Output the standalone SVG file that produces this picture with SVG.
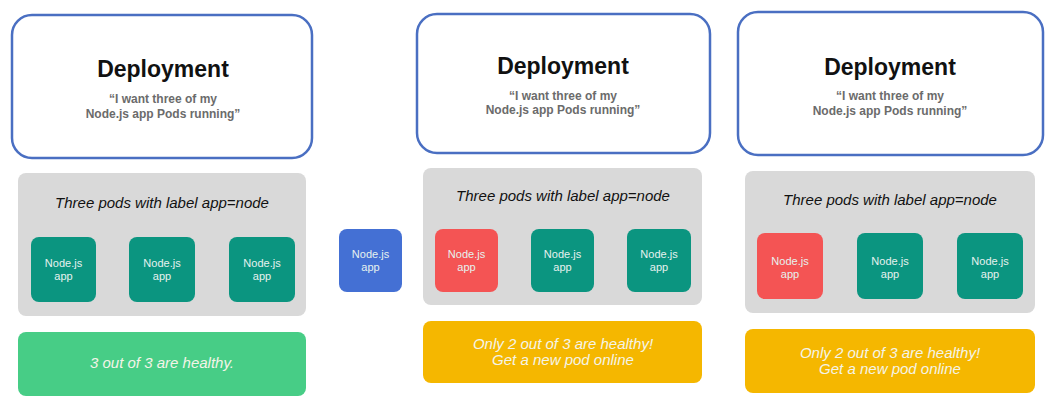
<svg xmlns="http://www.w3.org/2000/svg" width="1054" height="410" viewBox="0 0 1054 410">
<style>
.dep{fill:#ffffff;stroke:#4a6fc2;stroke-width:2.5}
.grp{fill:#d9d9d9}
.teal{fill:#0b9580}
.red{fill:#f45454}
.blue{fill:#4470d4}
.green{fill:#47cd86}
.yellow{fill:#f5b700}
text{font-family:"Liberation Sans",Arial,sans-serif;text-anchor:middle}
.title{font-size:23px;font-weight:bold;fill:#111111}
.quote{font-size:12px;font-weight:bold;fill:#6b6b6b}
.lbl{font-size:15px;font-style:italic;fill:#111111}
.pod{font-size:11px;fill:#e6f2ef}
.stat{font-size:15px;font-style:italic;fill:#f4f4e8}
</style>
<rect width="1054" height="410" fill="#ffffff"/>
<g id="panel1">
  <g id="deployment1">
    <rect class="dep" x="12" y="15" width="300" height="143" rx="20"/>
    <text class="title" x="163" y="77">Deployment</text>
    <text class="quote" x="163" y="103">“I want three of my</text>
    <text class="quote" x="163" y="118">Node.js app Pods running”</text>
  </g>
  <g id="pods1">
    <rect class="grp" x="18" y="173" width="288" height="143" rx="8"/>
    <text class="lbl" x="162" y="208">Three pods with label app=node</text>
  </g>
  <g id="pod1a"><rect class="teal" x="31" y="237" width="65" height="65" rx="8"/><text class="pod" x="63.5" y="267">Node.js</text><text class="pod" x="63.5" y="280">app</text></g>
  <g id="pod1b"><rect class="teal" x="129" y="237" width="66" height="65" rx="8"/><text class="pod" x="162" y="267">Node.js</text><text class="pod" x="162" y="280">app</text></g>
  <g id="pod1c"><rect class="teal" x="229" y="237" width="66" height="65" rx="8"/><text class="pod" x="262" y="267">Node.js</text><text class="pod" x="262" y="280">app</text></g>
  <g id="status1">
    <rect class="green" x="18" y="332" width="288" height="64" rx="8"/>
    <text class="stat" x="162" y="368">3 out of 3 are healthy.</text>
  </g>
</g>
<g id="newpod">
  <rect class="blue" x="339" y="229" width="63" height="63" rx="8"/>
  <text class="pod" x="370.5" y="258">Node.js</text><text class="pod" x="370.5" y="271">app</text>
</g>
<g id="panel2">
  <g id="deployment2">
    <rect class="dep" x="417" y="14" width="293" height="139" rx="20"/>
    <text class="title" x="563" y="74">Deployment</text>
    <text class="quote" x="563" y="100">“I want three of my</text>
    <text class="quote" x="563" y="114">Node.js app Pods running”</text>
  </g>
  <g id="pods2">
    <rect class="grp" x="423" y="168" width="279" height="137" rx="8"/>
    <text class="lbl" x="563" y="201">Three pods with label app=node</text>
  </g>
  <g id="pod2a"><rect class="red" x="435" y="229" width="63" height="63" rx="8"/><text class="pod" x="466.5" y="258">Node.js</text><text class="pod" x="466.5" y="271">app</text></g>
  <g id="pod2b"><rect class="teal" x="531" y="229" width="63" height="63" rx="8"/><text class="pod" x="562.5" y="258">Node.js</text><text class="pod" x="562.5" y="271">app</text></g>
  <g id="pod2c"><rect class="teal" x="627" y="229" width="64" height="63" rx="8"/><text class="pod" x="659" y="258">Node.js</text><text class="pod" x="659" y="271">app</text></g>
  <g id="status2">
    <rect class="yellow" x="423" y="321" width="279" height="62" rx="8"/>
    <text class="stat" x="563" y="349">Only 2 out of 3 are healthy!</text>
    <text class="stat" x="563" y="365">Get a new pod online</text>
  </g>
</g>
<g id="panel3">
  <g id="deployment3">
    <rect class="dep" x="738" y="12" width="305" height="143" rx="20"/>
    <text class="title" x="890" y="75">Deployment</text>
    <text class="quote" x="890" y="100">“I want three of my</text>
    <text class="quote" x="890" y="115">Node.js app Pods running”</text>
  </g>
  <g id="pods3">
    <rect class="grp" x="745" y="171" width="290" height="142" rx="8"/>
    <text class="lbl" x="890" y="205">Three pods with label app=node</text>
  </g>
  <g id="pod3a"><rect class="red" x="757" y="233" width="66" height="66" rx="8"/><text class="pod" x="790" y="265">Node.js</text><text class="pod" x="790" y="278">app</text></g>
  <g id="pod3b"><rect class="teal" x="857" y="233" width="66" height="66" rx="8"/><text class="pod" x="890" y="265">Node.js</text><text class="pod" x="890" y="278">app</text></g>
  <g id="pod3c"><rect class="teal" x="957" y="233" width="66" height="66" rx="8"/><text class="pod" x="990" y="265">Node.js</text><text class="pod" x="990" y="278">app</text></g>
  <g id="status3">
    <rect class="yellow" x="745" y="329" width="290" height="64" rx="8"/>
    <text class="stat" x="890" y="358">Only 2 out of 3 are healthy!</text>
    <text class="stat" x="890" y="374">Get a new pod online</text>
  </g>
</g>
<g id="connectors"/>
</svg>
